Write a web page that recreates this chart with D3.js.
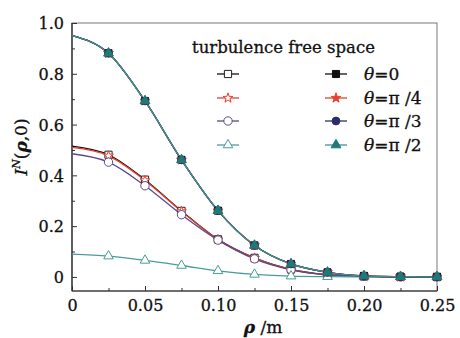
<!DOCTYPE html>
<html>
<head>
<meta charset="utf-8">
<script src="https://cdn.jsdelivr.net/npm/d3@7"></script>
<style>
  body { margin: 0; background: #fff; }
  svg { font-family: 'DejaVu Serif', 'Liberation Serif', serif; }
  text { stroke: #111; stroke-width: 0.3px; }
</style>
</head>
<body>
<svg id="chart" width="460" height="338"></svg>
<script>
// radial distance (m)
const rho = [0, 0.025, 0.05, 0.075, 0.1, 0.125, 0.15, 0.175, 0.2, 0.225, 0.25]

// turbulence free space
const freeTheta0 = [0.515, 0.481, 0.383, 0.26, 0.148, 0.075, 0.03, 0.009, 0.002, 0, 0]
const freeTheta45 = [0.51, 0.477, 0.38, 0.258, 0.147, 0.074, 0.029, 0.009, 0.002, 0, 0]
const freeTheta60 = [0.485, 0.452, 0.359, 0.245, 0.145, 0.071, 0.028, 0.008, 0.002, 0, 0]
const freeTheta90 = [0.09, 0.082, 0.065, 0.045, 0.024, 0.01, 0.003, 0.001, 0, 0, 0]

// turbulence, all four angles lie on the same curve
const turbTheta0 = [0.95, 0.881, 0.693, 0.461, 0.261, 0.124, 0.051, 0.018, 0.004, 0.001, 0]
const turbTheta45 = [0.95, 0.881, 0.693, 0.461, 0.261, 0.124, 0.051, 0.018, 0.004, 0.001, 0]
const turbTheta60 = [0.95, 0.881, 0.693, 0.461, 0.261, 0.124, 0.051, 0.018, 0.004, 0.001, 0]
const turbTheta90 = [0.95, 0.881, 0.693, 0.461, 0.261, 0.124, 0.051, 0.018, 0.004, 0.001, 0]

const xTicks = [0, 0.05, 0.1, 0.15, 0.2, 0.25]
const xTickLabels = ['0', '0.05', '0.10', '0.15', '0.20', '0.25']
const yTicks = [0, 0.2, 0.4, 0.6, 0.8, 1.0]
const yTickLabels = ['0', '0.2', '0.4', '0.6', '0.8', '1.0']
const angleLabels = ['0', 'π /4', 'π /3', 'π /2']

const svg = d3.select('#chart')
const plotLeft = 72, plotRight = 437, plotTop = 23, plotBottom = 291

const x = d3.scaleLinear().domain([0, 0.25]).range([plotLeft, plotRight])
const y = d3.scaleLinear().domain([-0.0555, 1.0]).range([plotBottom, plotTop])

const series = [
  { values: freeTheta0, line: '#111', stroke: '#222', fill: '#fff', symbol: d3.symbolSquare, size: 52 },
  { values: freeTheta45, line: '#e8402e', stroke: '#e8402e', fill: '#fff', symbol: d3.symbolStar, size: 30 },
  { values: freeTheta60, line: '#5a4a8c', stroke: '#5a4a8c', fill: '#fff', symbol: d3.symbolCircle, size: 55 },
  { values: freeTheta90, line: '#4a9c9a', stroke: '#4a9c9a', fill: '#fff', symbol: d3.symbolTriangle, size: 40 },
  { values: turbTheta0, line: '#111', stroke: '#111', fill: '#111', symbol: d3.symbolSquare, size: 50 },
  { values: turbTheta45, line: '#e8402e', stroke: '#e8402e', fill: '#e8402e', symbol: d3.symbolStar, size: 30 },
  { values: turbTheta60, line: '#2e2d6b', stroke: '#2e2d6b', fill: '#2e2d6b', symbol: d3.symbolCircle, size: 48 },
  { values: turbTheta90, line: '#3a9592', stroke: '#1f7a76', fill: '#1f7a76', symbol: d3.symbolTriangle, size: 42 }
]

// frame
svg.append('rect')
  .attr('x', plotLeft).attr('y', plotTop)
  .attr('width', plotRight - plotLeft).attr('height', plotBottom - plotTop)
  .attr('fill', 'none').attr('stroke', '#777').attr('stroke-width', 1)
svg.append('line').attr('x1', plotLeft).attr('x2', plotLeft).attr('y1', plotTop).attr('y2', plotBottom)
  .attr('stroke', '#222').attr('stroke-width', 1.2)
svg.append('line').attr('x1', plotLeft).attr('x2', plotRight).attr('y1', plotBottom).attr('y2', plotBottom)
  .attr('stroke', '#222').attr('stroke-width', 1.2)

// axes, ticks pointing inward
const xAxis = svg.append('g')
  .attr('transform', `translate(0, ${plotBottom})`)
  .call(d3.axisBottom(x).tickValues(xTicks).tickSize(-5).tickPadding(6)
    .tickFormat((d, i) => xTickLabels[i]))
const xMinor = svg.append('g')
  .attr('transform', `translate(0, ${plotBottom})`)
  .call(d3.axisBottom(x).tickValues(d3.range(0.025, 0.25, 0.05)).tickSize(-3).tickFormat(''))
const yAxis = svg.append('g')
  .attr('transform', `translate(${plotLeft}, 0)`)
  .call(d3.axisLeft(y).tickValues(yTicks).tickSize(-5).tickPadding(8)
    .tickFormat((d, i) => yTickLabels[i]))
const yMinor = svg.append('g')
  .attr('transform', `translate(${plotLeft}, 0)`)
  .call(d3.axisLeft(y).tickValues([0.1, 0.3, 0.5, 0.7, 0.9]).tickSize(-3).tickFormat(''))

;[xAxis, xMinor, yAxis, yMinor].forEach((g) => {
  g.select('.domain').remove()
  g.selectAll('line').attr('stroke', '#333')
  g.selectAll('text').attr('font-family', 'DejaVu Serif').attr('font-size', 16)
    .attr('fill', '#111')
})
xAxis.selectAll('text').attr('dy', '0.9em')
yAxis.selectAll('text').attr('dy', '0.36em')

// curves
const line = d3.line()
  .x((d, i) => x(rho[i]))
  .y((d) => y(d))
  .curve(d3.curveMonotoneX)

const plot = svg.append('g')
series.forEach((s) => {
  plot.append('path')
    .attr('d', line(s.values))
    .attr('fill', 'none')
    .attr('stroke', s.line)
    .attr('stroke-width', 1.3)
})

// markers
series.forEach((s) => {
  plot.append('g').selectAll('path')
    .data(s.values.map((v, i) => [rho[i], v]).filter((d) => d[0] > 0))
    .join('path')
    .attr('transform', (d) => `translate(${x(d[0])}, ${y(d[1])})`)
    .attr('d', d3.symbol(s.symbol, s.size))
    .attr('fill', s.fill)
    .attr('stroke', s.stroke)
    .attr('stroke-width', 1)
})

// legend
const legend = svg.append('g')
legend.append('text')
  .attr('x', 192).attr('y', 53)
  .attr('font-size', 16.5).attr('fill', '#111')
  .text('turbulence free space')

const rowY = [74, 98, 121, 145]
series.forEach((s, i) => {
  const row = i % 4
  const cx = i < 4 ? 228 : 336
  const g = legend.append('g').attr('transform', `translate(${cx}, ${rowY[row]})`)
  g.append('line').attr('x1', -11).attr('x2', 11)
    .attr('stroke', s.line).attr('stroke-width', 1.3)
  g.append('path')
    .attr('d', d3.symbol(s.symbol, s.size))
    .attr('fill', s.fill).attr('stroke', s.stroke).attr('stroke-width', 1)
})
angleLabels.forEach((lab, i) => {
  const t = legend.append('text')
    .attr('x', 364).attr('y', rowY[i] + 6)
    .attr('font-size', 17).attr('fill', '#111')
  t.append('tspan').attr('font-style', 'italic').text('θ')
  t.append('tspan').text('=' + lab)
})

// axis titles
const yTitle = svg.append('text')
  .attr('transform', 'translate(27, 147) rotate(-90)')
  .attr('text-anchor', 'middle')
  .attr('font-size', 17).attr('fill', '#111')
yTitle.append('tspan').attr('font-style', 'italic').text('I')
yTitle.append('tspan').attr('font-style', 'italic').attr('font-size', 11)
  .attr('dy', '-0.6em').text('N')
yTitle.append('tspan').attr('dy', '0.38em').text('(')
yTitle.append('tspan').attr('font-style', 'italic').attr('font-weight', 'bold').text('ρ')
yTitle.append('tspan').text(',0)')

const xTitle = svg.append('text')
  .attr('x', 263).attr('y', 333)
  .attr('text-anchor', 'middle')
  .attr('font-size', 17).attr('fill', '#111')
xTitle.append('tspan').attr('font-style', 'italic').attr('font-weight', 'bold').text('ρ')
xTitle.append('tspan').text(' /m')
</script>
</body>
</html>
